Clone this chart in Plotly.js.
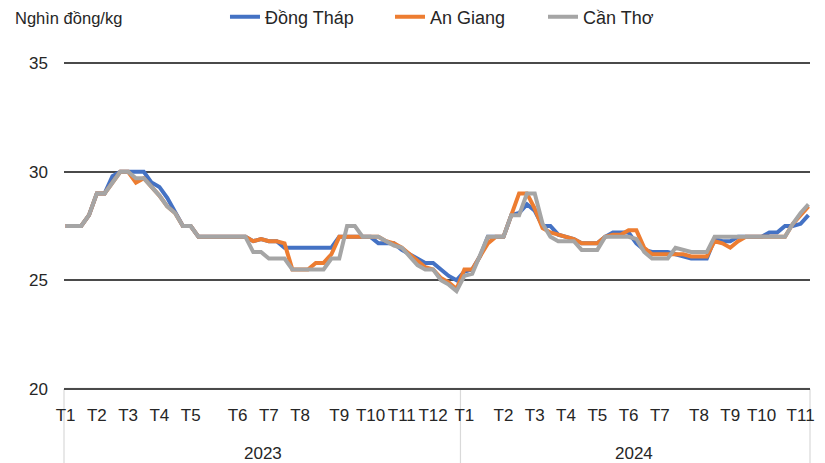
<!DOCTYPE html>
<html>
<head>
<meta charset="utf-8">
<script src="https://cdn.plot.ly/plotly-3.0.1.min.js"></script>
<style>
  html, body { margin: 0; padding: 0; background: #ffffff; }
  #chart { width: 825px; height: 463px; }
</style>
</head>
<body>
<div id="chart"></div>
<script>
// ---- Data ----
const years = ['2023', '2024'];

// Week-level category labels (month label on the first observation of the month)
const weekLabels2023 = [
  'T1','','','',
  'T2','','','',
  'T3','','','',
  'T4','','','',
  'T5','','','','','',
  'T6','','','',
  'T7','','','',
  'T8','','','','',
  'T9','','','',
  'T10','','','',
  'T11','','','',
  'T12','','',''
];
const weekLabels2024 = [
  'T1','','','','',
  'T2','','','',
  'T3','','','',
  'T4','','','',
  'T5','','','',
  'T6','','','',
  'T7','','','','',
  'T8','','','',
  'T9','','','',
  'T10','','','','',
  'T11',''
];

const seriesNames = ['Đồng Tháp', 'An Giang', 'Cần Thơ'];

const dongThap = [
  27.5, 27.5, 27.5, 28, 29, 29, 29.8, 30, 30, 30,
  30, 29.5, 29.3, 28.8, 28.1, 27.5, 27.5, 27, 27, 27,
  27, 27, 27, 27, 26.8, 26.9, 26.8, 26.8, 26.5, 26.5,
  26.5, 26.5, 26.5, 26.5, 26.5, 27, 27, 27, 27, 27,
  26.7, 26.7, 26.7, 26.4, 26.2, 26, 25.8, 25.8, 25.5, 25.2,
  25, 25.4, 25.5, 26.1, 27, 27, 27, 28, 28.1, 28.5,
  28.2, 27.5, 27.5, 27.1, 27, 26.9, 26.7, 26.7, 26.7, 27,
  27.2, 27.2, 27.2, 26.7, 26.4, 26.3, 26.3, 26.3, 26.2, 26.1,
  26, 26, 26, 26.9, 26.8, 26.8, 27, 27, 27, 27,
  27.2, 27.2, 27.5, 27.5, 27.6, 28
];

const anGiang = [
  27.5, 27.5, 27.5, 28, 29, 29, 29.5, 30, 30, 29.5,
  29.7, 29.3, 28.9, 28.4, 28.1, 27.5, 27.5, 27, 27, 27,
  27, 27, 27, 27, 26.8, 26.9, 26.8, 26.8, 26.7, 25.5,
  25.5, 25.5, 25.8, 25.8, 26.2, 27, 27, 27, 27, 27,
  27, 26.8, 26.7, 26.5, 26.2, 25.9, 25.6, 25.5, 25.1, 24.9,
  24.6, 25.5, 25.5, 26.1, 26.7, 27, 27, 28, 29, 29,
  28.3, 27.4, 27.2, 27.1, 27, 26.9, 26.7, 26.7, 26.7, 27,
  27.1, 27.1, 27.3, 27.3, 26.5, 26.2, 26.2, 26.2, 26.2, 26.2,
  26.1, 26.1, 26.1, 26.8, 26.7, 26.5, 26.8, 27, 27, 27,
  27, 27, 27, 27.6, 28, 28.4
];

const canTho = [
  27.5, 27.5, 27.5, 28, 29, 29, 29.5, 30, 30, 29.7,
  29.7, 29.3, 28.9, 28.4, 28.1, 27.5, 27.5, 27, 27, 27,
  27, 27, 27, 27, 26.3, 26.3, 26, 26, 26, 25.5,
  25.5, 25.5, 25.5, 25.5, 26, 26, 27.5, 27.5, 27, 27,
  27, 26.8, 26.6, 26.5, 26.1, 25.7, 25.5, 25.5, 25, 24.8,
  24.5, 25.2, 25.3, 26.1, 27, 27, 27, 28, 28, 29,
  29, 27.6, 27, 26.8, 26.8, 26.8, 26.4, 26.4, 26.4, 27,
  27, 27, 27, 26.9, 26.3, 26, 26, 26, 26.5, 26.4,
  26.3, 26.3, 26.3, 27, 27, 27, 27, 27, 27, 27,
  27, 27, 27, 27.6, 28.1, 28.5
];

const yTicks = [20, 25, 30, 35];
const unitLabel = 'Nghìn đồng/kg';

// ---- Build ----
const weekLabels = weekLabels2023.concat(weekLabels2024);
const xIdx = weekLabels.map((_, i) => i);
const tickVals = [], tickText = [];
weekLabels.forEach((l, i) => { if (l) { tickVals.push(i); tickText.push(l); } });
const nLast = weekLabels.length - 1;
const yearSplit = weekLabels2023.length - 0.5;

const colors = ['#4472C4', '#ED7D31', '#A5A5A5'];
const legendIds = ['legend', 'legend2', 'legend3'];
const seriesData = [dongThap, anGiang, canTho];

const traces = seriesData.map((vals, k) => ({
  type: 'scatter', mode: 'lines',
  x: xIdx, y: vals, name: seriesNames[k],
  line: { color: colors[k], width: 4 },
  legend: legendIds[k],
  hoverinfo: 'skip'
}));

const font = { family: '"Liberation Sans", Arial, sans-serif', color: '#262626' };
const legendBase = {
  orientation: 'h', yanchor: 'middle', xanchor: 'left', y: 1.133,
  bgcolor: 'rgba(0,0,0,0)', borderwidth: 0,
  font: Object.assign({}, font, { size: 18 })
};

const layout = {
  width: 825, height: 463,
  margin: { l: 64, r: 15, t: 61, b: 72, pad: 0, autoexpand: false },
  paper_bgcolor: '#ffffff', plot_bgcolor: '#ffffff',
  font: font,
  showlegend: true,
  legend: Object.assign({}, legendBase, { x: 0.2158 }),
  legend2: Object.assign({}, legendBase, { x: 0.4370 }),
  legend3: Object.assign({}, legendBase, { x: 0.6421 }),
  xaxis: {
    range: [-0.2, nLast + 0.2],
    tickmode: 'array', tickvals: tickVals, ticktext: tickText,
    showgrid: false, zeroline: false, showline: false,
    ticks: '', ticklabelstandoff: 12,
    tickfont: Object.assign({}, font, { size: 17 }),
    tickangle: 0, fixedrange: true, automargin: false
  },
  yaxis: {
    range: [yTicks[0] - 0.1, yTicks[yTicks.length - 1] + 0.1],
    tickmode: 'array', tickvals: yTicks,
    showgrid: true, gridcolor: '#4a4a4a', gridwidth: 1.6,
    zeroline: false, showline: false, ticks: '',
    ticklabelstandoff: 15,
    tickfont: Object.assign({}, font, { size: 17 }),
    fixedrange: true, automargin: false
  },
  shapes: [
    { type: 'line', layer: 'below', xref: 'paper', yref: 'y', x0: 0, x1: 1,
      y0: yTicks[0], y1: yTicks[0], line: { color: '#d9d9d9', width: 2.2 } },
    { type: 'line', layer: 'below', xref: 'paper', yref: 'paper', x0: 0, x1: 0,
      y0: 0.006, y1: -0.23, line: { color: '#d9d9d9', width: 1.2 } },
    { type: 'line', layer: 'below', xref: 'x', yref: 'paper', x0: yearSplit, x1: yearSplit,
      y0: 0.006, y1: -0.23, line: { color: '#d9d9d9', width: 1.2 } },
    { type: 'line', layer: 'below', xref: 'paper', yref: 'paper', x0: 1, x1: 1,
      y0: 0.006, y1: -0.23, line: { color: '#d9d9d9', width: 1.2 } }
  ],
  annotations: [
    { text: unitLabel, xref: 'paper', yref: 'paper', x: -0.068, y: 1.13,
      xanchor: 'left', yanchor: 'middle', showarrow: false,
      font: Object.assign({}, font, { size: 16.5 }) },
    { text: years[0], xref: 'x', yref: 'paper', x: (0 + yearSplit) / 2, y: -0.19,
      xanchor: 'center', yanchor: 'middle', showarrow: false,
      font: Object.assign({}, font, { size: 17 }) },
    { text: years[1], xref: 'x', yref: 'paper', x: (yearSplit + nLast) / 2, y: -0.19,
      xanchor: 'center', yanchor: 'middle', showarrow: false,
      font: Object.assign({}, font, { size: 17 }) }
  ]
};

Plotly.newPlot('chart', traces, layout, { displayModeBar: false, staticPlot: true });
</script>
</body>
</html>
